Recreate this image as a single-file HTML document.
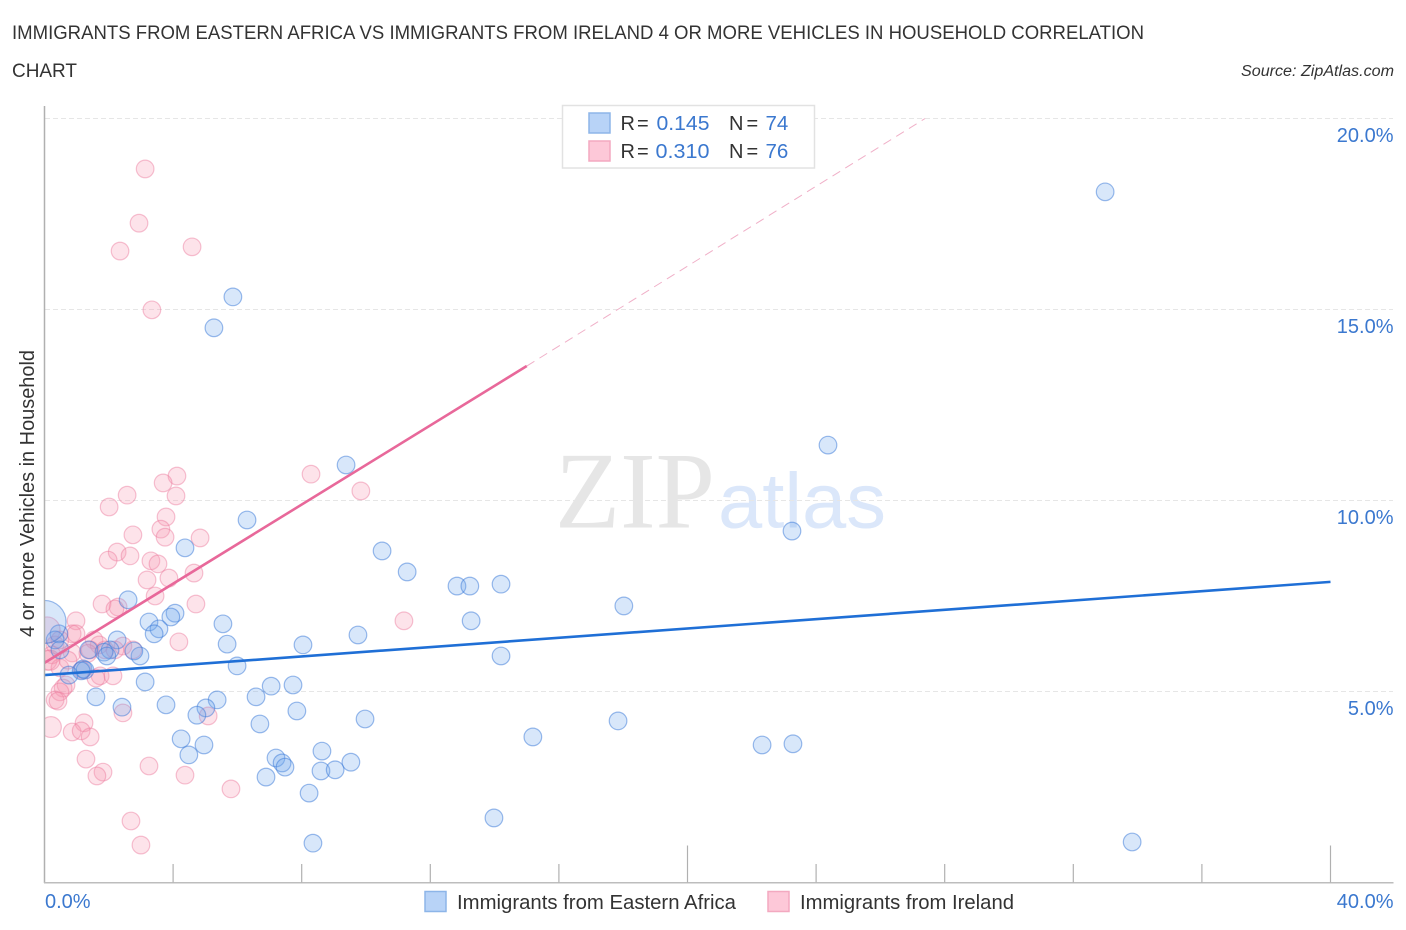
<!DOCTYPE html>
<html lang="en">
<head>
<meta charset="utf-8">
<title>Immigrants from Eastern Africa vs Immigrants from Ireland 4 or more Vehicles in Household Correlation Chart</title>
<style>
html,body{margin:0;padding:0;background:#fff;}
svg{display:block;font-family:"Liberation Sans",sans-serif;}
</style>
</head>
<body>
<svg id="chart" xmlns="http://www.w3.org/2000/svg" width="1406" height="930" viewBox="0 0 1406 930">
<rect x="0" y="0" width="1406" height="930" fill="#ffffff"/>
<text x="12" y="39" font-size="19.5" fill="#333" textLength="1132" lengthAdjust="spacingAndGlyphs">IMMIGRANTS FROM EASTERN AFRICA VS IMMIGRANTS FROM IRELAND 4 OR MORE VEHICLES IN HOUSEHOLD CORRELATION</text>
<text x="12" y="77" font-size="19.5" fill="#333" textLength="65" lengthAdjust="spacingAndGlyphs">CHART</text>
<text x="1241" y="76" font-size="15.5" font-style="italic" fill="#333" textLength="153" lengthAdjust="spacingAndGlyphs">Source: ZipAtlas.com</text>
<text x="555" y="527.5" font-family="'Liberation Serif',serif" font-size="109" fill="#e6e6e6" textLength="160" lengthAdjust="spacingAndGlyphs">ZIP</text>
<text x="718" y="527.5" font-size="78" fill="#dbe7fa" textLength="168" lengthAdjust="spacingAndGlyphs">atlas</text>
<g id="grid"></g>
<g id="points"></g>
<rect x="0" y="580" width="44" height="310" fill="#ffffff"/>
<g id="trends"></g>
<g id="axes"></g>
<text transform="translate(34,637) rotate(-90)" x="0" y="0" font-size="20" fill="#333" textLength="287" lengthAdjust="spacingAndGlyphs">4 or more Vehicles in Household</text>
<g>
<rect x="562.5" y="105.5" width="252" height="62.5" fill="#fff" stroke="#e2e2e2" stroke-width="1.5"/>
<rect x="589" y="113" width="21" height="20" fill="#b8d3f7" stroke="#8db5e8" stroke-width="1.5"/>
<rect x="589" y="141" width="21" height="20" fill="#fdc8d8" stroke="#f3a9c0" stroke-width="1.5"/>
<text y="130" font-size="20" fill="#333"><tspan x="620.5">R</tspan><tspan x="637">=</tspan></text>
<text x="656.5" y="130" font-size="20.5" fill="#3b78cf" textLength="53" lengthAdjust="spacingAndGlyphs">0.145</text>
<text y="130" font-size="20" fill="#333"><tspan x="729">N</tspan><tspan x="746.5">=</tspan></text>
<text x="765.5" y="130" font-size="20.5" fill="#3b78cf">74</text>
<text y="158" font-size="20" fill="#333"><tspan x="620.5">R</tspan><tspan x="637">=</tspan></text>
<text x="655.5" y="158" font-size="20.5" fill="#3b78cf" textLength="54" lengthAdjust="spacingAndGlyphs">0.310</text>
<text y="158" font-size="20" fill="#333"><tspan x="729">N</tspan><tspan x="746.5">=</tspan></text>
<text x="765.5" y="158" font-size="20.5" fill="#3b78cf">76</text>
</g>
<g>
<rect x="425" y="891.5" width="21" height="20" fill="#b8d3f7" stroke="#8db5e8" stroke-width="1.5"/>
<text x="457" y="909" font-size="20" fill="#333" textLength="279" lengthAdjust="spacingAndGlyphs">Immigrants from Eastern Africa</text>
<rect x="768" y="891.5" width="21" height="20" fill="#fdc8d8" stroke="#f3a9c0" stroke-width="1.5"/>
<text x="800" y="909" font-size="20" fill="#333" textLength="214" lengthAdjust="spacingAndGlyphs">Immigrants from Ireland</text>
</g>
</svg>
<script>
const blueX = [32.99,5.86,5.27,24.37,9.38,6.30,23.25,4.37,10.50,11.28,12.83,13.23,14.20,2.60,18.02,4.06,3.93,3.25,5.55,3.56,3.41,13.27,9.75,2.26,5.68,8.04,0.45,0.33,14.20,2.04,2.97,1.85,1.38,2.78,1.94,5.99,1.20,1.26,0.76,3.13,7.73,7.05,1.60,6.58,5.37,3.78,2.41,5.02,7.85,4.74,9.97,6.70,17.84,15.19,4.25,4.96,22.32,23.28,8.63,4.49,7.20,7.39,7.48,9.53,8.60,9.04,6.89,8.23,13.98,8.35,33.83,0.00,1.14,0.48];
const blueY = [18.08,15.33,14.52,11.45,10.93,9.49,9.20,8.76,8.68,8.13,7.76,7.76,7.81,7.40,7.24,7.05,6.95,6.82,6.77,6.64,6.51,6.85,6.48,6.35,6.24,6.22,6.51,6.35,5.93,6.09,5.93,6.03,6.09,6.06,5.93,5.67,5.59,5.56,5.43,5.25,5.17,5.14,4.86,4.86,4.78,4.65,4.59,4.57,4.49,4.38,4.28,4.15,4.23,3.81,3.76,3.60,3.60,3.63,3.44,3.34,3.26,3.13,3.02,3.15,2.92,2.95,2.76,2.34,1.69,1.03,1.06,6.82,5.54,6.09];
const blueWeight = [1,1,1,1,1,1,1,1,1,1,1,1,1,1,1,1,1,1,1,1,1,1,1,1,1,1,1,1,1,1,1,1,1,1,1,1,1,1,1,1,1,1,1,1,1,1,1,1,1,1,1,1,1,1,1,1,1,1,1,1,1,1,1,1,1,1,1,1,1,1,1,6,1,1];
const pinkX = [3.13,2.94,2.35,4.59,3.34,4.12,3.69,4.09,2.57,2.01,3.78,3.62,3.75,4.84,2.75,2.26,2.66,1.98,3.31,3.53,3.19,3.87,4.65,3.44,1.79,2.29,2.19,4.71,0.98,0.86,0.98,4.18,11.18,8.29,9.84,1.54,1.70,0.08,0.33,1.42,2.44,2.75,1.88,2.19,0.86,0.08,0.23,0.48,0.17,1.17,1.73,2.13,1.60,0.67,0.58,0.48,0.33,0.42,2.44,5.09,0.20,1.23,0.86,1.14,1.42,1.29,1.82,1.63,3.25,4.37,5.80,2.69,3.00,0.48,0.73,1.35];
const pinkY = [18.68,17.26,16.53,16.64,14.99,10.64,10.46,10.12,10.14,9.83,9.57,9.25,9.04,9.02,9.10,8.65,8.55,8.44,8.42,8.34,7.92,7.97,8.10,7.50,7.29,7.21,7.16,7.29,6.85,6.51,6.51,6.30,6.85,10.69,10.25,6.35,6.22,6.61,6.22,6.09,6.19,6.09,6.09,6.09,6.01,5.82,5.96,5.62,5.82,5.56,5.41,5.41,5.35,5.17,5.09,4.99,4.78,4.75,4.44,4.36,4.07,4.18,3.94,3.97,3.81,3.23,2.89,2.79,3.05,2.81,2.45,1.61,0.98,6.35,5.82,6.00];
const pinkWeight = [1,1,1,1,1,1,1,1,1,1,1,1,1,1,1,1,1,1,1,1,1,1,1,1,1,1,1,1,1,1,1,1,1,1,1,1,1,2.2,1,1,1,1,1,1,1,1.3,1,1,1.3,1,1,1,1,1,1,1,1,1,1,1,1.4,1,1,1,1,1,1,1,1,1,1,1,1,1,1,1];
const blueTrendX = [0,40];
const blueTrendY = [5.43,7.87];
const pinkTrendX = [0,15];
const pinkTrendY = [5.75,13.52];
const pinkDashedX = [15,27.39];
const pinkDashedY = [13.52,20];
const yTicks = [5,10,15,20];
const yTickLabels = ['5.0%','10.0%','15.0%','20.0%'];
const xTicks = [0,4,8,12,16,20,24,28,32,36,40];
const xMajorTicks = [20,40];
const xEndLabels = ['0.0%','40.0%'];

const SVGNS = 'http://www.w3.org/2000/svg';
const sx = function (v) { return 44.5 + v * 32.15; };
const sy = function (v) { return 882.5 - v * 38.2; };
const mk = function (tag, parent) {
  const el = document.createElementNS(SVGNS, tag);
  parent.appendChild(el);
  return el;
};
const grid = document.getElementById('grid');
const axes = document.getElementById('axes');
const points = document.getElementById('points');
const trends = document.getElementById('trends');

yTicks.forEach(function (t, i) {
  const g = mk('line', grid);
  
  
  g.setAttribute('x1', 45);
  g.setAttribute('x2', 1393);
  g.setAttribute('y1', sy(t));
  g.setAttribute('y2', sy(t));
  g.setAttribute('stroke', '#e6e6e6');
  g.setAttribute('stroke-width', '1');
  g.setAttribute('stroke-dasharray', '5 3');
  const l = mk('text', axes);
  
  
  l.setAttribute('x', 1393.5);
  l.setAttribute('y', sy(t) + 23.5);
  l.setAttribute('text-anchor', 'end');
  l.setAttribute('font-size', '20');
  l.setAttribute('fill', '#3b78cf');
  l.textContent = yTickLabels[i];
});

function drawSeries(xs, ys, ws, fill, stroke, name) {
  xs.forEach(function (x, i) {
    const c = mk('circle', points);
    
    
    c.setAttribute('cx', sx(x));
    c.setAttribute('cy', sy(ys[i]));
    c.setAttribute('r', 8.8 * Math.sqrt(ws[i]));
    c.setAttribute('fill', fill);
    c.setAttribute('stroke', stroke);
    c.setAttribute('stroke-width', '1.2');
  });
}
drawSeries(pinkX, pinkY, pinkWeight, 'rgba(247,150,178,0.27)', 'rgba(236,120,155,0.45)', 'point-ireland');
drawSeries(blueX, blueY, blueWeight, 'rgba(110,165,235,0.27)', 'rgba(55,120,215,0.5)', 'point-eastern-africa');

const blueTrend = mk('line', trends);


blueTrend.setAttribute('x1', sx(blueTrendX[0]));
blueTrend.setAttribute('y1', sy(blueTrendY[0]));
blueTrend.setAttribute('x2', sx(blueTrendX[1]));
blueTrend.setAttribute('y2', sy(blueTrendY[1]));
blueTrend.setAttribute('stroke', '#1f6fd6');
blueTrend.setAttribute('stroke-width', '2.6');

const pinkTrend = mk('line', trends);


pinkTrend.setAttribute('x1', sx(pinkTrendX[0]));
pinkTrend.setAttribute('y1', sy(pinkTrendY[0]));
pinkTrend.setAttribute('x2', sx(pinkTrendX[1]));
pinkTrend.setAttribute('y2', sy(pinkTrendY[1]));
pinkTrend.setAttribute('stroke', '#e8689a');
pinkTrend.setAttribute('stroke-width', '2.6');

const pinkDash = mk('line', trends);


pinkDash.setAttribute('x1', sx(pinkDashedX[0]));
pinkDash.setAttribute('y1', sy(pinkDashedY[0]));
pinkDash.setAttribute('x2', sx(pinkDashedX[1]));
pinkDash.setAttribute('y2', sy(pinkDashedY[1]));
pinkDash.setAttribute('stroke', '#f0b0c8');
pinkDash.setAttribute('stroke-width', '1');
pinkDash.setAttribute('stroke-dasharray', '9 6');

const yAxis = mk('line', axes);


yAxis.setAttribute('x1', 44.5);
yAxis.setAttribute('x2', 44.5);
yAxis.setAttribute('y1', 106);
yAxis.setAttribute('y2', 883);
yAxis.setAttribute('stroke', '#b0b0b0');
yAxis.setAttribute('stroke-width', '1.5');

const xAxis = mk('line', axes);


xAxis.setAttribute('x1', 44);
xAxis.setAttribute('x2', 1393.5);
xAxis.setAttribute('y1', 882.7);
xAxis.setAttribute('y2', 882.7);
xAxis.setAttribute('stroke', '#bdbdbd');
xAxis.setAttribute('stroke-width', '1.5');

xTicks.forEach(function (t) {
  if (t === 0) return;
  const tk = mk('line', axes);
  
  
  tk.setAttribute('x1', sx(t));
  tk.setAttribute('x2', sx(t));
  tk.setAttribute('y1', xMajorTicks.indexOf(t) >= 0 ? 845.5 : 864);
  tk.setAttribute('y2', 882.5);
  tk.setAttribute('stroke', '#b0b0b0');
  tk.setAttribute('stroke-width', '1.2');
});

const xLabelLeft = mk('text', axes);


xLabelLeft.setAttribute('x', 45);
xLabelLeft.setAttribute('y', 908);
xLabelLeft.setAttribute('font-size', '20');
xLabelLeft.setAttribute('fill', '#3b78cf');
xLabelLeft.textContent = xEndLabels[0];

const xLabelRight = mk('text', axes);


xLabelRight.setAttribute('x', 1393.5);
xLabelRight.setAttribute('y', 908);
xLabelRight.setAttribute('text-anchor', 'end');
xLabelRight.setAttribute('font-size', '20');
xLabelRight.setAttribute('fill', '#3b78cf');
xLabelRight.textContent = xEndLabels[1];
</script>
</body>
</html>
